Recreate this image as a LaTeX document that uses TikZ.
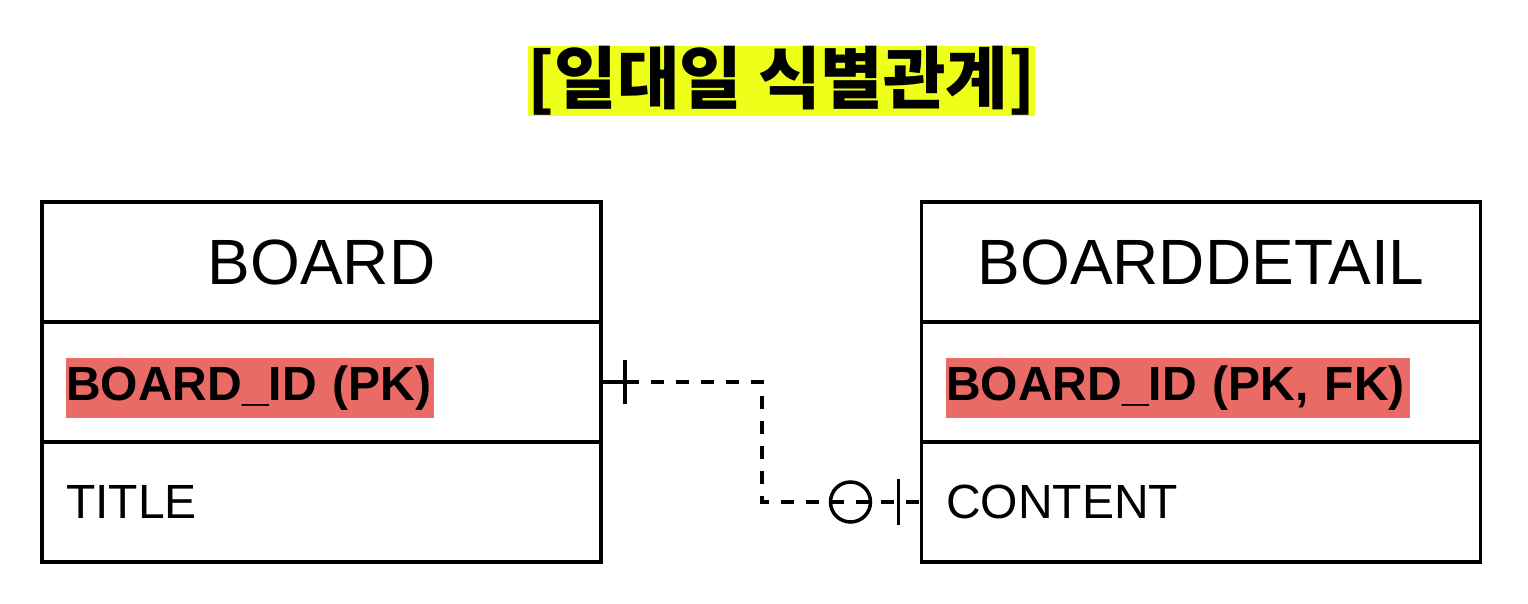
\documentclass[tikz,border=0pt]{standalone}
\usepackage{fontspec}
\setmainfont{Liberation Sans}
\newfontfamily\krfont{Noto Sans CJK KR}
\definecolor{titlebg}{RGB}{238,255,26}
\definecolor{pkred}{RGB}{234,107,102}
\begin{document}
\begin{tikzpicture}[x=1pt,y=-1pt,
  cell/.style={draw=black,line width=3.5pt,minimum width=559pt,minimum height=120pt,inner sep=0pt,outer sep=0pt},
  hdrtext/.style={font=\fontsize{64}{64}\selectfont},
  attr/.style={anchor=west,font=\fontsize{48}{48}\selectfont,inner xsep=0pt,inner ysep=0pt,minimum height=60pt,align=left},
  pk/.style={attr,fill=pkred,font=\fontsize{48}{48}\selectfont\bfseries},
  rel/.style={line width=3.5pt,dash pattern=on 13pt off 12pt},
  ermark/.style={line width=3.5pt}]
\useasboundingbox (0,0) rectangle (1528,604);
\node[fill=titlebg,minimum width=507pt,minimum height=68pt,inner sep=0pt,font=\krfont\bfseries\fontsize{68}{68}\selectfont] (title) at (781.5,81) {[일대일 식별관계]};
% BOARD
\node[cell,hdrtext] (bh) at (321.5,262) {BOARD};
\node[cell] (b1) at (321.5,382) {};
\node[cell] (b2) at (321.5,502) {};
\node[pk,text width=368pt] (b1t) at (66,388) {BOARD\_ID (PK)};
\node[attr] (b2t) at (66,502) {TITLE};
% BOARDDETAIL
\node[cell,hdrtext] (dh) at (1201,262) {BOARDDETAIL};
\node[cell] (d1) at (1201,382) {};
\node[cell] (d2) at (1201,502) {};
\node[pk,text width=464pt] (d1t) at (946,388) {BOARD\_ID (PK, FK)};
\node[attr] (d2t) at (946,502) {CONTENT};
% relation
\coordinate (bend) at (762,0);
\draw[rel] (b1.east) -- (b1.east -| bend) -- (bend |- d2.west) -- (d2.west);
\draw[ermark] (b1.east) -- ++(32,0);
\draw[ermark] ([xshift=24pt,yshift=-22pt]b1.east) -- ([xshift=24pt,yshift=22pt]b1.east);
\draw[ermark] ([xshift=-71pt]d2.west) circle (20pt);
\draw[ermark] ([xshift=-23pt,yshift=-23pt]d2.west) -- ([xshift=-23pt,yshift=23pt]d2.west);
\end{tikzpicture}
\end{document}
